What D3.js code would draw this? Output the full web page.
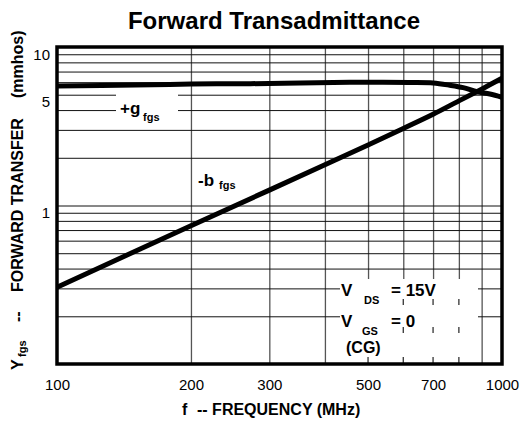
<!DOCTYPE html>
<html><head><meta charset="utf-8">
<script src="https://cdn.jsdelivr.net/npm/d3@7"></script>
<style>body{margin:0;background:#fff}svg{display:block}text{font-family:"Liberation Sans",Arial,sans-serif}</style>
</head><body>
<script>
// ---- data ----
const freqG = [100,150,200,272,352,455,540,620,700,763,818,879,939,1000];
const gfs   = [5.68,5.75,5.84,5.87,5.92,5.99,5.99,5.97,5.93,5.74,5.54,5.22,5.05,4.82];
const freqB = [100,200,300,400,500,600,700,800,900,1000];
const bfs   = [0.305,0.745,1.25,1.81,2.41,3.06,3.76,4.57,5.42,6.35];
const xTickLabels = [100,200,300,500,700,1000];
const yTickLabels = [1,5,10];
const xGrid = [200,300,400,500,600,700,800,900];
const yGrid = [0.2,0.3,0.4,0.5,0.6,0.7,0.8,0.9,1,2,3,4,5,6,7,8,9];

const W=529,H=421, L=57,R=502,T=47,B=364;
const svg=d3.select("body").append("svg").attr("width",W).attr("height",H);
const x=d3.scaleLog().domain([100,1000]).range([L,R]);
const y=d3.scaleLog().domain([0.1,10]).range([B,T]);

// gridlines via axes
svg.append("g").attr("transform",`translate(0,${B})`)
  .call(d3.axisBottom(x).tickValues(xGrid).tickSize(-(B-T)).tickFormat(""))
  .call(g=>g.select(".domain").remove())
  .call(g=>g.selectAll("line").attr("stroke","#555").attr("stroke-width",1.3));
svg.append("g").attr("transform",`translate(${L},0)`)
  .call(d3.axisLeft(y).tickValues(yGrid).tickSize(-(R-L)).tickFormat(""))
  .call(g=>g.select(".domain").remove())
  .call(g=>g.selectAll("line").attr("stroke","#111").attr("stroke-width",1));

// white label boxes
svg.append("rect").attr("x",116).attr("y",89).attr("width",62).attr("height",37).attr("fill","#fff");
svg.append("rect").attr("x",340).attr("y",279).attr("width",138).attr("height",84).attr("fill","#fff");
// small dashes inside the conditions box
const dashF=[600,700,800], dashY=[[299,305],[327,333],[357,364]];
dashF.forEach(f=>dashY.forEach(r=>svg.append("line").attr("x1",x(f)).attr("x2",x(f)).attr("y1",r[0]).attr("y2",r[1]).attr("stroke","#333").attr("stroke-width",1.3)));
svg.append("line").attr("x1",x(500)).attr("x2",x(500)).attr("y1",357).attr("y2",364).attr("stroke","#333").attr("stroke-width",1.3);

// curves
const line=d3.line().x(d=>x(d[0])).y(d=>y(d[1])).curve(d3.curveCatmullRom.alpha(0.5));
svg.append("path").datum(freqG.map((f,i)=>[f,gfs[i]])).attr("d",line).attr("fill","none").attr("stroke","#000").attr("stroke-width",5);
svg.append("path").datum(freqB.map((f,i)=>[f,bfs[i]])).attr("d",line).attr("fill","none").attr("stroke","#000").attr("stroke-width",5);

// frame
svg.append("rect").attr("x",L).attr("y",T).attr("width",R-L).attr("height",B-T).attr("fill","none").attr("stroke","#000").attr("stroke-width",3.5);

// tick labels via axes
svg.append("g").attr("transform",`translate(0,${B})`)
  .call(d3.axisBottom(x).tickValues(xTickLabels).tickSize(0).tickPadding(15).tickFormat(d3.format("d")))
  .call(g=>g.select(".domain").remove())
  .call(g=>g.selectAll("text").attr("font-size",15).attr("fill","#000").attr("font-family","Liberation Sans, Arial, sans-serif"));
svg.append("g").attr("transform",`translate(50,0)`)
  .call(d3.axisLeft(y).tickValues(yTickLabels).tickSize(0).tickPadding(0).tickFormat(d3.format("d")))
  .call(g=>g.select(".domain").remove())
  .call(g=>g.selectAll("text").attr("font-size",15).attr("fill","#000").attr("dy","0.8em").attr("font-family","Liberation Sans, Arial, sans-serif"));

// title
svg.append("text").attr("x",274).attr("y",29).attr("text-anchor","middle").attr("font-size",24).attr("font-weight","bold").text("Forward Transadmittance");

// x label
const xl=svg.append("text").attr("y",415).attr("font-weight","bold").attr("font-size",16);
xl.append("tspan").attr("x",182).text("f");
xl.append("tspan").attr("x",197).text("-- FREQUENCY (MHz)");

// y label (rotated)
const yg=svg.append("g").attr("transform","translate(23,0) rotate(-90)");
yg.append("text").attr("x",-370).attr("font-weight","bold").attr("font-size",16).text("Y");
yg.append("text").attr("x",-357).attr("y",3).attr("font-weight","bold").attr("font-size",11).text("fgs");
yg.append("text").attr("x",-322).attr("font-weight","bold").attr("font-size",16).text("--");
yg.append("text").attr("x",-292).attr("font-weight","bold").attr("font-size",16).text("FORWARD TRANSFER");
yg.append("text").attr("x",-98).attr("font-weight","bold").attr("font-size",16).text("(mmhos)");

// curve labels
function lab(xx,yy,s,fs){svg.append("text").attr("x",xx).attr("y",yy).attr("font-weight","bold").attr("font-size",fs).text(s);}
lab(120,114,"+g",17); lab(143,121,"fgs",11);
lab(198,186,"-b",17); lab(219,189,"fgs",11);
lab(341,296,"V",17); lab(364,304,"DS",11); lab(391,296,"= 15V",17);
lab(341,327,"V",17); lab(362,335,"GS",11); lab(391,327,"= 0",17);
lab(346,353,"(CG)",16);
</script>
</body></html>
